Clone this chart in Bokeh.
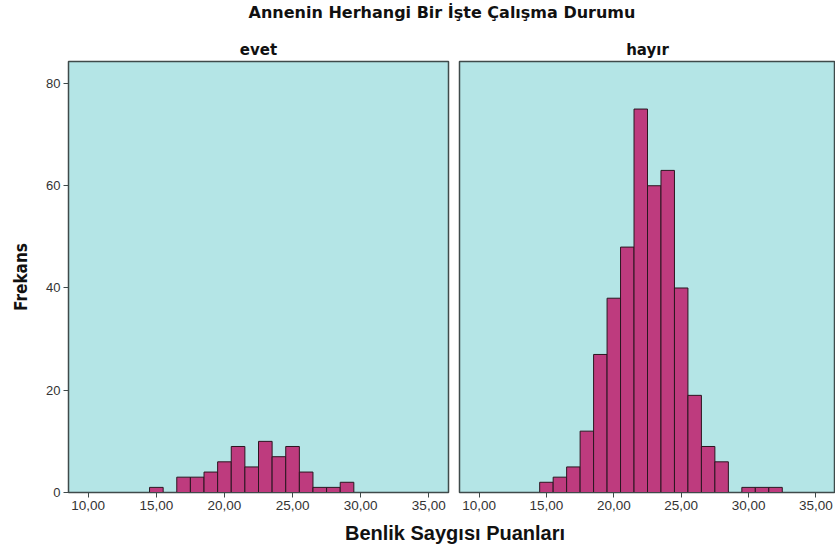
from bokeh.plotting import figure
from bokeh.models import Range1d, FixedTicker, Title, Div, ColumnDataSource
from bokeh.layouts import row, column
from bokeh.embed import file_html
from bokeh.resources import INLINE

# ---- data ----
score_bins = [15, 16, 17, 18, 19, 20, 21, 22, 23, 24, 25, 26, 27, 28, 29, 30, 31, 32]
evet_counts = [1, 0, 3, 3, 4, 6, 9, 5, 10, 7, 9, 4, 1, 1, 2, 0, 0, 0]
hayir_counts = [2, 3, 5, 12, 27, 38, 48, 75, 60, 63, 40, 19, 9, 6, 0, 1, 1, 1]
panel_titles = ["evet", "hayır"]
x_ticks = [10, 15, 20, 25, 30, 35]
x_tick_labels = ["10,00", "15,00", "20,00", "25,00", "30,00", "35,00"]
y_ticks = [0, 20, 40, 60, 80]
main_title = "Annenin Herhangi Bir İşte Çalışma Durumu"
x_label = "Benlik Saygısı Puanları"
y_label = "Frekans"

BG = "#B4E5E6"
BAR = "#BE3B7E"
EDGE = "#2B1620"
FRAME = "#3F4A4A"
FONT = "Liberation Sans"
TFONT = "DejaVu Sans"
NARROW = "'Liberation Sans Narrow', 'DejaVu Sans Condensed', 'Liberation Sans'"


def make_src(counts):
    l, r, t = [], [], []
    for c, n in zip(score_bins, counts):
        if n > 0:
            l.append(c - 0.5)
            r.append(c + 0.5)
            t.append(n)
    return ColumnDataSource(dict(left=l, right=r, top=t, bottom=[0] * len(t)))


def make_panel(counts, title, width, bl, br, show_y):
    p = figure(width=width, height=484,
               x_range=Range1d(8.55, 36.45), y_range=Range1d(0, 84.3),
               output_backend="svg", toolbar_location=None,
               min_border_left=bl, min_border_right=br,
               min_border_top=24, min_border_bottom=28,
               y_axis_location="left" if show_y else None)
    p.background_fill_color = BG
    p.border_fill_color = "white"
    p.outline_line_color = FRAME
    p.outline_line_width = 1.5
    p.xgrid.visible = False
    p.ygrid.visible = False
    p.add_layout(Title(text=title, align="center", text_font=TFONT,
                       text_font_size="15px", text_font_style="bold",
                       text_color="#111111", standoff=5), "above")
    p.quad(left="left", right="right", top="top", bottom="bottom", source=make_src(counts),
           fill_color=BAR, line_color=EDGE, line_width=1)
    xa = p.xaxis[0]
    xa.ticker = FixedTicker(ticks=x_ticks)
    xa.major_label_overrides = {t: s for t, s in zip(x_ticks, x_tick_labels)}
    xa.minor_tick_line_color = None
    xa.major_tick_in = 0
    xa.major_tick_out = 5
    xa.axis_line_color = FRAME
    xa.major_tick_line_color = FRAME
    xa.major_label_text_font = FONT
    xa.major_label_text_font_size = "13.5px"
    xa.major_label_text_color = "#333333"
    xa.major_label_standoff = 3
    if show_y:
        ya = p.yaxis[0]
        ya.ticker = FixedTicker(ticks=y_ticks)
        ya.minor_tick_line_color = None
        ya.major_tick_in = 0
        ya.major_tick_out = 5
        ya.axis_line_color = FRAME
        ya.major_tick_line_color = FRAME
        ya.major_label_text_font = FONT
        ya.major_label_text_font_size = "13px"
        ya.major_label_text_color = "#333333"
        ya.major_label_standoff = 3
        ya.axis_label = y_label
        ya.axis_label_text_font = NARROW
        ya.axis_label_text_font_size = "17px"
        ya.axis_label_text_font_style = "bold"
        ya.axis_label_text_color = "#111111"
        ya.axis_label_standoff = 12
    return p


p1 = make_panel(evet_counts, panel_titles[0], 453, 68, 5, True)
p2 = make_panel(hayir_counts, panel_titles[1], 382, 6, 0, False)

top = Div(text=f'<div style="width:760px;margin-left:62px;text-align:center;font-family:\'{TFONT}\';'
               f'font-weight:bold;font-size:16px;color:#111;line-height:25px;">{main_title}</div>',
          width=835, height=36, margin=0)
bottom = Div(text=f'<div style="width:760px;margin-left:75px;text-align:center;font-family:\'{FONT}\';'
                  f'font-weight:bold;font-size:20px;color:#111;line-height:24px;padding-top:1px">{x_label}</div>',
             width=835, height=29, margin=0)

layout = column(top, row(p1, p2, spacing=0), bottom, spacing=0)

open("out.html", "w").write(file_html(layout, INLINE))
